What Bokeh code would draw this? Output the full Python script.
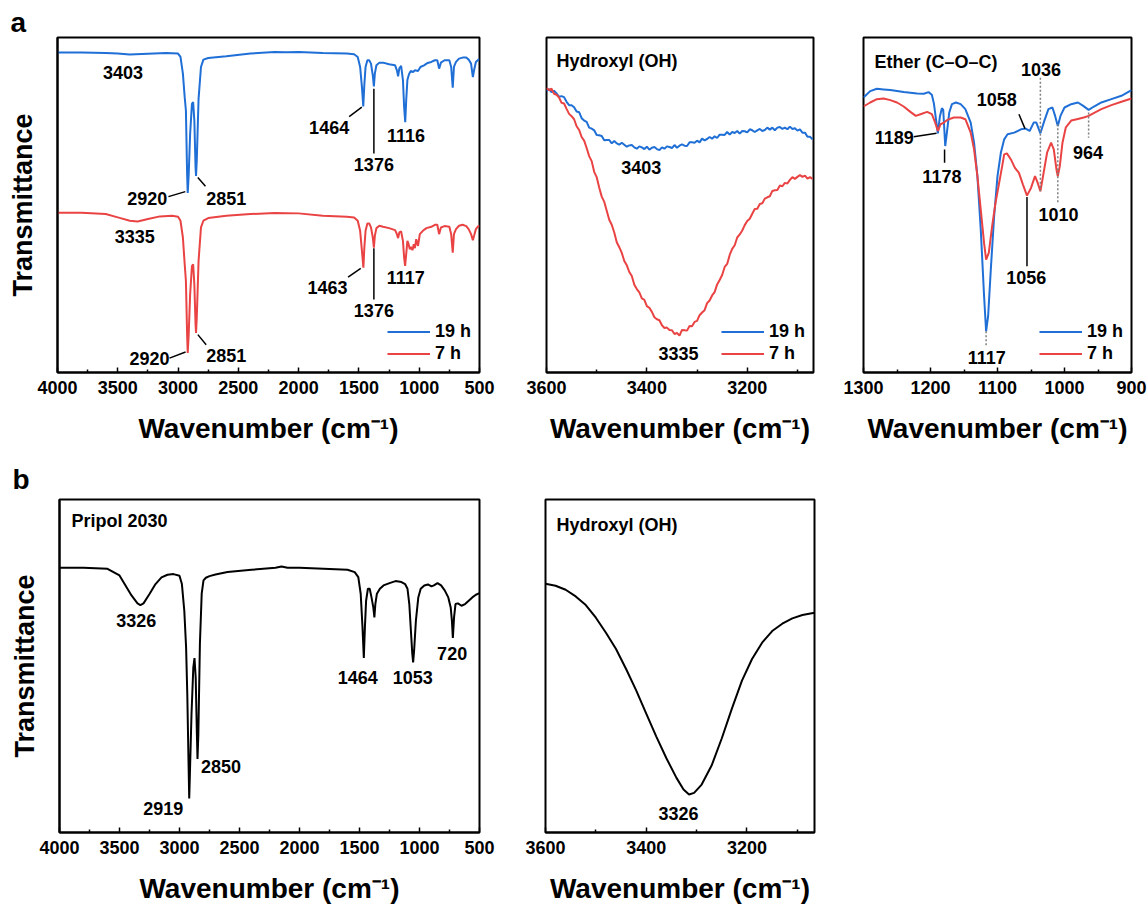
from bokeh.plotting import figure
from bokeh.models import Range1d, FixedTicker, Label, ColumnDataSource, Title
from bokeh.layouts import row, column
from bokeh.core.properties import value
from bokeh.embed import file_html
from bokeh.resources import INLINE

FONT = "Liberation Sans"
BLUE = "#1F6FD6"
RED = "#EA4343"
BLACK = "#000000"
XLABEL = "Wavenumber (cm\u207b\u00b9)"

# ---------------- data: panel a (full spectra) ----------------
a1_blue_x = [4000, 3800, 3600, 3500, 3403, 3300, 3100, 3000, 2980, 2960, 2945, 2935, 2925, 2920, 2912, 2900,
             2885, 2875, 2865, 2855, 2851, 2845, 2830, 2810, 2790, 2750, 2600, 2400, 2200, 2100, 2000, 1800,
             1600, 1540, 1510, 1490, 1475, 1464, 1455, 1445, 1430, 1415, 1400, 1385, 1376, 1368, 1355, 1330,
             1300, 1250, 1200, 1185, 1175, 1165, 1150, 1135, 1125, 1116, 1108, 1098, 1085, 1070, 1050, 1035,
             1010, 990, 960, 930, 900, 870, 850, 835, 820, 790, 750, 735, 722, 712, 695, 670,
             640, 610, 590, 570, 555, 545, 530, 510, 500]
a1_blue_y = [95.5, 95.5, 95.4, 95.2, 94.9, 95.1, 95.4, 95.2, 94.2, 89.2, 82.2, 78.2, 59.2, 53.6, 59.0, 71.2,
             80.2, 80.7, 75.2, 61.2, 58.7, 63.3, 81.7, 91.2, 93.4, 93.9, 94.4, 95.2, 95.7, 95.6, 95.7, 95.4,
             95.2, 95.0, 94.2, 91.2, 85.2, 79.4, 86.0, 91.2, 93.2, 93.2, 92.2, 88.7, 85.4, 89.2, 91.7, 92.5,
             92.5, 92.0, 91.7, 90.2, 88.4, 90.8, 91.5, 87.3, 79.2, 74.7, 81.2, 87.3, 89.0, 90.0, 89.7, 90.2,
             90.0, 91.2, 91.7, 92.4, 92.7, 93.2, 93.2, 90.7, 92.5, 93.2, 93.2, 91.2, 85.0, 91.2, 92.7, 93.7,
             94.0, 94.0, 93.4, 92.2, 88.2, 90.2, 92.7, 93.4, 93.4]

a1_red_x = [4000, 3800, 3600, 3500, 3400, 3335, 3250, 3150, 3050, 3000,
            2980, 2960, 2945, 2935, 2925, 2920, 2912, 2900, 2885, 2875,
            2865, 2855, 2851, 2845, 2830, 2810, 2790, 2750, 2600, 2400,
            2200, 2000, 1800, 1600, 1540, 1510, 1490, 1475, 1463, 1455,
            1445, 1430, 1415, 1400, 1385, 1376, 1368, 1355, 1330, 1300,
            1250, 1200, 1185, 1175, 1165, 1150, 1135, 1125, 1117, 1108,
            1098, 1088, 1078, 1068, 1056, 1045, 1036, 1025, 1010, 995,
            970, 940, 900, 870, 850, 835, 820, 790, 750, 735,
            722, 712, 695, 670, 640, 610, 590, 570, 555, 545,
            530, 510, 500]
a1_red_y = [47.7, 47.7, 47.3, 46.3, 45.3, 45.1, 45.8, 46.6, 46.8, 46.5,
            45.3, 40.3, 32.3, 27.3, 11.3, 5.8, 11.3, 23.3, 31.8, 32.3,
            26.3, 14.3, 11.8, 16.3, 33.3, 43.3, 45.3, 46.1, 46.8, 47.3,
            47.6, 47.5, 46.8, 46.5, 46.3, 45.3, 42.3, 36.3, 31.3, 37.3,
            42.3, 44.5, 44.5, 43.3, 40.3, 37.3, 40.8, 43.1, 43.8, 43.5,
            43.1, 42.5, 41.3, 40.1, 41.8, 42.1, 39.3, 34.3, 31.8, 35.3,
            39.3, 38.3, 36.8, 37.5, 36.5, 38.3, 37.1, 39.8, 37.8, 41.3,
            42.3, 43.1, 43.5, 44.1, 44.1, 41.3, 43.3, 43.7, 43.5, 41.3,
            35.8, 41.3, 42.8, 43.8, 44.1, 43.7, 42.8, 41.3, 39.5, 40.8,
            42.8, 43.7, 43.8]

# hydroxyl region, sampled every 5 cm-1 from 3600 to 3070
a2_x = list(range(3600, 3069, -5))
a2_blue_y = [84.0, 84.6, 83.7, 84.1, 83.3, 82.3, 82.5, 82.2, 80.8, 79.8,
             79.8, 79.2, 77.9, 77.7, 75.9, 75.2, 74.8, 73.1, 72.8, 72.3,
             70.9, 70.8, 70.6, 69.3, 69.4, 69.4, 68.4, 69.1, 68.4, 68.0,
             68.6, 68.0, 67.4, 67.8, 67.9, 67.2, 66.8, 67.5, 67.2, 66.7,
             67.4, 66.5, 67.1, 67.3, 66.7, 66.4, 67.2, 66.8, 67.5, 67.3,
             67.0, 67.9, 67.1, 67.7, 68.1, 67.7, 67.6, 68.7, 68.7, 68.6,
             69.2, 68.7, 69.8, 69.3, 69.7, 70.3, 69.8, 70.5, 70.0, 71.0,
             71.0, 70.9, 71.8, 71.0, 71.8, 71.5, 72.1, 71.3, 72.1, 72.0,
             71.7, 72.6, 72.3, 71.8, 72.3, 72.7, 72.1, 72.4, 73.1, 72.5,
             73.1, 72.3, 73.1, 73.3, 72.7, 73.1, 72.6, 73.4, 72.7, 72.9,
             72.2, 72.6, 71.6, 71.6, 70.4, 70.4, 69.6]
a2_red_y = [84.9, 84.3, 84.7, 83.2, 82.9, 82.1, 80.5, 80.3, 78.7, 77.2,
            76.5, 75.6, 73.5, 72.4, 70.3, 69.2, 67.0, 64.6, 63.1, 59.9,
            58.3, 55.2, 52.5, 51.0, 48.3, 45.6, 44.1, 41.8, 38.9, 37.4,
            35.7, 33.3, 32.0, 30.0, 28.8, 26.2, 24.9, 23.9, 22.1, 21.7,
            19.8, 19.3, 18.1, 16.5, 15.9, 15.6, 14.1, 13.3, 13.4, 12.7,
            12.6, 11.5, 11.8, 11.0, 12.7, 12.6, 12.5, 13.9, 13.8, 15.1,
            15.4, 17.1, 17.9, 18.6, 20.7, 21.5, 23.0, 24.0, 26.3, 27.6,
            29.1, 31.5, 32.4, 35.1, 36.9, 38.0, 40.3, 41.2, 42.4, 44.0,
            45.2, 45.9, 47.4, 48.8, 48.9, 50.3, 50.5, 51.9, 52.3, 52.6,
            54.2, 54.4, 54.5, 55.8, 55.6, 56.6, 56.4, 57.5, 58.3, 57.8,
            58.4, 58.9, 58.4, 58.8, 57.9, 58.3, 57.8]

# ether region
a3_blue_x = [1300, 1290, 1280, 1270, 1260, 1250, 1240, 1230, 1220, 1210,
             1203, 1198, 1195, 1191, 1189, 1186, 1183, 1181, 1178, 1175,
             1172, 1168, 1162, 1155, 1148, 1140, 1135, 1130, 1125, 1120,
             1117, 1114, 1110, 1105, 1100, 1095, 1090, 1085, 1075, 1065,
             1058, 1052, 1046, 1042, 1036, 1030, 1024, 1018, 1014, 1010,
             1006, 1000, 990, 980, 972, 964, 956, 945, 930, 915, 900]
a3_blue_y = [82.1, 84.0, 84.7, 84.5, 84.3, 84.0, 83.7, 83.5, 83.3, 83.2,
             83.7, 82.9, 80.4, 74.4, 71.4, 76.4, 78.9, 78.4, 67.6, 72.5,
             77.6, 80.1, 80.6, 80.1, 78.6, 74.6, 68.6, 58.6, 42.7, 22.7,
             12.3, 16.8, 30.7, 46.7, 58.6, 65.6, 69.6, 71.1, 71.6, 72.6,
             72.8, 72.1, 74.6, 74.6, 71.4, 75.2, 78.6, 79.1, 76.6, 73.6,
             76.6, 79.1, 80.1, 80.6, 79.6, 78.4, 79.4, 80.6, 81.6, 82.6, 84.3]
a3_red_x = [1300, 1290, 1280, 1270, 1260, 1250, 1240, 1230, 1222, 1215,
            1205, 1198, 1193, 1189, 1185, 1180, 1175, 1165, 1155, 1148,
            1140, 1135, 1130, 1125, 1120, 1117, 1113, 1108, 1103, 1098,
            1093, 1090, 1086, 1080, 1074, 1068, 1062, 1056, 1050, 1044,
            1040, 1036, 1032, 1026, 1020, 1016, 1012, 1010, 1007, 1003,
            998, 990, 980, 970, 964, 955, 945, 930, 915, 900]
a3_red_y = [79.4, 80.6, 81.6, 81.8, 81.3, 80.6, 79.4, 77.8, 76.6, 77.1,
            77.8, 77.1, 74.6, 72.1, 74.1, 74.6, 75.4, 76.1, 76.1, 75.6,
            71.6, 66.6, 58.6, 48.6, 38.6, 33.7, 35.7, 43.7, 50.6, 56.1,
            61.6, 65.1, 65.4, 63.6, 61.1, 59.6, 56.1, 52.8, 55.1, 58.6,
            56.6, 54.1, 58.6, 65.6, 68.6, 66.6, 60.6, 58.6, 61.6, 68.6,
            73.2, 75.2, 75.7, 76.2, 76.6, 77.6, 78.6, 79.8, 80.8, 81.8]

# ---------------- data: panel b (Pripol 2030) ----------------
b1_x = [4000, 3800, 3600, 3500, 3450, 3400, 3350, 3326, 3300, 3250,
        3200, 3150, 3100, 3050, 3000, 2980, 2960, 2945, 2935, 2925,
        2919, 2912, 2900, 2885, 2875, 2865, 2855, 2850, 2843, 2830,
        2815, 2800, 2780, 2750, 2700, 2600, 2400, 2200, 2150, 2100,
        2000, 1800, 1600, 1540, 1510, 1490, 1475, 1464, 1455, 1445,
        1430, 1415, 1400, 1385, 1376, 1368, 1355, 1330, 1300, 1250,
        1200, 1150, 1120, 1100, 1085, 1070, 1060, 1053, 1045, 1030,
        1010, 990, 960, 930, 900, 880, 850, 820, 790, 760,
        740, 730, 722, 712, 700, 680, 650, 620, 590, 560,
        530, 500]
b1_y = [79.5, 79.5, 79.2, 77.2, 74.2, 71.2, 68.8, 68.3, 68.8, 71.6,
        74.6, 76.6, 77.4, 77.6, 77.1, 74.6, 66.6, 55.6, 41.5, 21.4,
        10.2, 19.4, 35.5, 49.5, 52.4, 46.5, 29.4, 22.1, 29.4, 56.6,
        71.7, 75.7, 76.5, 77.0, 77.5, 78.2, 78.9, 79.5, 79.9, 79.5,
        79.5, 79.2, 78.9, 78.2, 76.7, 71.7, 61.6, 52.4, 61.6, 69.6,
        73.2, 73.2, 70.6, 67.6, 64.6, 68.6, 71.7, 73.2, 74.2, 74.9,
        75.5, 75.2, 74.6, 73.2, 68.6, 59.6, 53.6, 51.1, 54.6, 63.6,
        70.6, 73.2, 74.2, 74.5, 73.9, 74.2, 74.9, 74.2, 72.7, 70.6,
        67.6, 63.6, 58.4, 64.6, 68.6, 68.8, 68.1, 68.6, 69.6, 70.6,
        71.4, 71.9]
b2_x = [3600, 3580, 3560, 3540, 3520, 3500, 3480, 3460, 3440, 3420,
        3400, 3380, 3360, 3340, 3326, 3315, 3305, 3290, 3270, 3250,
        3230, 3210, 3190, 3170, 3150, 3130, 3110, 3090, 3066]
b2_y = [74.7, 74.1, 72.9, 70.9, 68.3, 64.5, 60.0, 55.1, 49.1, 42.7,
        35.7, 28.8, 22.3, 16.4, 12.9, 11.4, 11.9, 14.4, 20.2, 28.3,
        37.2, 45.6, 52.1, 57.0, 60.5, 62.7, 64.3, 65.3, 66.0]

# ---------------- peak annotations ----------------
a1_ann_text = ["3403", "2920", "2851", "1464", "1376", "1116", "3335", "2920", "2851", "1463", "1376", "1117"]
a1_ann_x = [3457, 3090, 2767, 1581, 1376, 1110, 3360, 3071, 2767, 1595, 1376, 1112]
a1_ann_y = [89.7, 52.0, 52.0, 73.2, 62.0, 70.7, 40.7, 4.3, 5.1, 25.5, 18.5, 28.5]
a1_ann_align = ["center", "right", "left", "right", "center", "center",
                "center", "right", "left", "right", "center", "center"]
a1_lead = dict(x0=[3080, 2836, 1476, 1376, 3071, 2836, 1485, 1376],
               y0=[52.5, 58.2, 79.2, 84.7, 4.3, 11.3, 31.1, 37.1],
               x1=[2940, 2773, 1581, 1376, 2938, 2767, 1590, 1376],
               y1=[54.0, 55.6, 76.4, 65.4, 6.1, 8.3, 28.5, 21.8])

a2_ann_text = ["3403", "3335"]
a2_ann_x = [3411, 3337]
a2_ann_y = [61.3, 5.6]

a3_ann_text = ["1189", "1178", "1058", "1036", "1010", "964", "1056", "1117"]
a3_ann_x = [1225, 1183, 1101, 1035, 1009, 965, 1057, 1116]
a3_ann_y = [70.1, 58.6, 81.6, 90.5, 47.2, 65.6, 28.4, 4.6]
a3_ann_align = ["right", "center", "center", "center", "center", "center", "center", "center"]
a3_lead = dict(x0=[1225, 1179, 1068, 1056], y0=[70.4, 66.6, 77.1, 52.4],
               x1=[1191, 1179, 1059, 1056], y1=[71.4, 62.6, 72.8, 31.7])
a3_dots = dict(x0=[1036, 1010, 964, 1117], y0=[88.0, 74.1, 77.6, 12.3],
               x1=[1036, 1010, 964, 1117], y1=[54.1, 50.6, 70.1, 7.8])

b1_ann_text = ["3326", "2919", "2850", "1464", "1053", "720"]
b1_ann_x = [3361, 3135, 2821, 1515, 1056, 728]
b1_ann_y = [63.6, 7.3, 19.7, 46.5, 46.5, 53.8]
b1_ann_align = ["center", "center", "left", "center", "center", "center"]

b2_ann_text = ["3326"]
b2_ann_x = [3336]
b2_ann_y = [5.8]


def make_fig(w, h, xr, major, minor, left, right, top, bottom, ylabel=None):
    p = figure(width=w, height=h, x_range=Range1d(*xr), y_range=Range1d(0, 100),
               output_backend="svg", toolbar_location=None,
               min_border_left=left, min_border_right=right,
               min_border_top=top, min_border_bottom=bottom)
    p.background_fill_color = "white"
    p.border_fill_color = "white"
    p.outline_line_color = BLACK
    p.outline_line_width = 2
    p.grid.visible = False
    ax = p.xaxis[0]
    ax.ticker = FixedTicker(ticks=major, minor_ticks=minor)
    ax.axis_line_width = 2
    ax.major_tick_in = 5
    ax.major_tick_out = 0
    ax.minor_tick_in = 3
    ax.minor_tick_out = 0
    ax.major_tick_line_width = 1.5
    ax.minor_tick_line_width = 1.5
    ax.major_label_text_font = FONT
    ax.major_label_text_font_style = "bold"
    ax.major_label_text_font_size = "18px"
    ax.major_label_text_color = BLACK
    ax.major_label_standoff = 8
    ax.axis_label = XLABEL
    ax.axis_label_text_font = FONT
    ax.axis_label_text_font_style = "bold"
    ax.axis_label_text_font_size = "28px"
    ax.axis_label_text_color = BLACK
    ax.axis_label_standoff = 16
    ay = p.yaxis[0]
    if ylabel:
        ay.ticker = FixedTicker(ticks=[])
        ay.major_tick_out = 0
        ay.major_tick_in = 0
        ay.minor_tick_out = 0
        ay.minor_tick_in = 0
        ay.major_label_standoff = 0
        ay.axis_line_width = 2
        ay.axis_label = ylabel
        ay.axis_label_text_font = FONT
        ay.axis_label_text_font_style = "bold"
        ay.axis_label_text_font_size = "27px"
        ay.axis_label_text_color = BLACK
        ay.axis_label_standoff = 20
    else:
        ay.visible = False
    return p


def add_text(p, xs, ys, texts, aligns=None):
    if aligns is None:
        aligns = ["center"] * len(texts)
    src = ColumnDataSource(dict(x=xs, y=ys, t=texts, a=aligns))
    p.text(x="x", y="y", text="t", source=src, text_align="a", text_baseline="middle",
           text_font=value(FONT), text_font_style="bold", text_font_size="18px", text_color=BLACK)


def add_corner(p, text, x, y, size, baseline="middle"):
    p.add_layout(Label(x=x, y=y, x_units="screen", y_units="screen", text=text,
                       text_font=FONT, text_font_style="bold", text_font_size=size,
                       text_color=BLACK, text_baseline=baseline, text_align="left"))


def add_panel_letter(p, letter, offset, standoff):
    p.add_layout(Title(text=letter, align="left", offset=offset, standoff=standoff,
                       vertical_align="bottom", text_font=FONT, text_font_style="bold",
                       text_font_size="28px", text_color=BLACK), "above")


def style_legend(p):
    lg = p.legend[0]
    lg.location = "bottom_right"
    lg.background_fill_alpha = 0
    lg.border_line_alpha = 0
    lg.glyph_width = 43
    lg.glyph_height = 19
    lg.label_height = 19
    lg.label_standoff = 5
    lg.spacing = 1
    lg.padding = 0
    lg.margin = 8
    lg.label_text_font = FONT
    lg.label_text_font_style = "bold"
    lg.label_text_font_size = "18px"
    lg.label_text_color = BLACK


FH_A = 335
FH_B = 333

# ---- a1 ----
a1 = make_fig(512, 455, (4000, 500), [4000, 3500, 3000, 2500, 2000, 1500, 1000, 500],
              [3750, 3250, 2750, 2250, 1750, 1250, 750], 57, 33, 37, 83, ylabel="Transmittance")
a1.line(a1_blue_x, a1_blue_y, line_color=BLUE, line_width=2, legend_label="19 h")
a1.line(a1_red_x, a1_red_y, line_color=RED, line_width=2, legend_label="7 h")
a1.segment(x0="x0", y0="y0", x1="x1", y1="y1", source=ColumnDataSource(a1_lead), line_color=BLACK, line_width=1.5)
add_text(a1, a1_ann_x, a1_ann_y, a1_ann_text, a1_ann_align)
style_legend(a1)
add_panel_letter(a1, "a", -47, 0)

# ---- a2 ----
a2 = make_fig(326, 455, (3600, 3068), [3600, 3400, 3200], [3500, 3300, 3100], 34, 25, 37, 83)
a2.line(a2_x, a2_blue_y, line_color=BLUE, line_width=2, legend_label="19 h")
a2.line(a2_x, a2_red_y, line_color=RED, line_width=2, legend_label="7 h")
add_text(a2, a2_ann_x, a2_ann_y, a2_ann_text)
style_legend(a2)
add_corner(a2, "Hydroxyl (OH)", 10, FH_A - 23, "18px")

# ---- a3 ----
a3 = make_fig(309, 455, (1300, 900), [1300, 1200, 1100, 1000, 900], [1250, 1150, 1050, 950], 25, 16, 37, 83)
a3.line(a3_blue_x, a3_blue_y, line_color=BLUE, line_width=2, legend_label="19 h")
a3.line(a3_red_x, a3_red_y, line_color=RED, line_width=2, legend_label="7 h")
a3.segment(x0="x0", y0="y0", x1="x1", y1="y1", source=ColumnDataSource(a3_lead), line_color=BLACK, line_width=1.5)
a3.segment(x0="x0", y0="y0", x1="x1", y1="y1", source=ColumnDataSource(a3_dots), line_color="#7F7F7F",
           line_width=1.5, line_dash="2 2")
add_text(a3, a3_ann_x, a3_ann_y, a3_ann_text, a3_ann_align)
style_legend(a3)
add_corner(a3, "Ether (C\u2013O\u2013C)", 11, FH_A - 24, "18px")

# ---- b1 ----
b1 = make_fig(512, 453, (4000, 500), [4000, 3500, 3000, 2500, 2000, 1500, 1000, 500],
              [3750, 3250, 2750, 2250, 1750, 1250, 750], 59, 33, 44, 76, ylabel="Transmittance")
b1.line(b1_x, b1_y, line_color=BLACK, line_width=2)
add_text(b1, b1_ann_x, b1_ann_y, b1_ann_text, b1_ann_align)
add_corner(b1, "Pripol 2030", 12, FH_B - 21, "18px")
add_panel_letter(b1, "b", -47, 10)

# ---- b2 ----
b2 = make_fig(322, 453, (3600, 3066), [3600, 3400, 3200], [3500, 3300, 3100], 33, 20, 44, 76)
b2.line(b2_x, b2_y, line_color=BLACK, line_width=2)
add_text(b2, b2_ann_x, b2_ann_y, b2_ann_text)
add_corner(b2, "Hydroxyl (OH)", 11, FH_B - 25, "18px")

layout = column(row(a1, a2, a3, spacing=0), row(b1, b2, spacing=0), spacing=0)

open("out.html", "w").write(file_html(layout, INLINE))
